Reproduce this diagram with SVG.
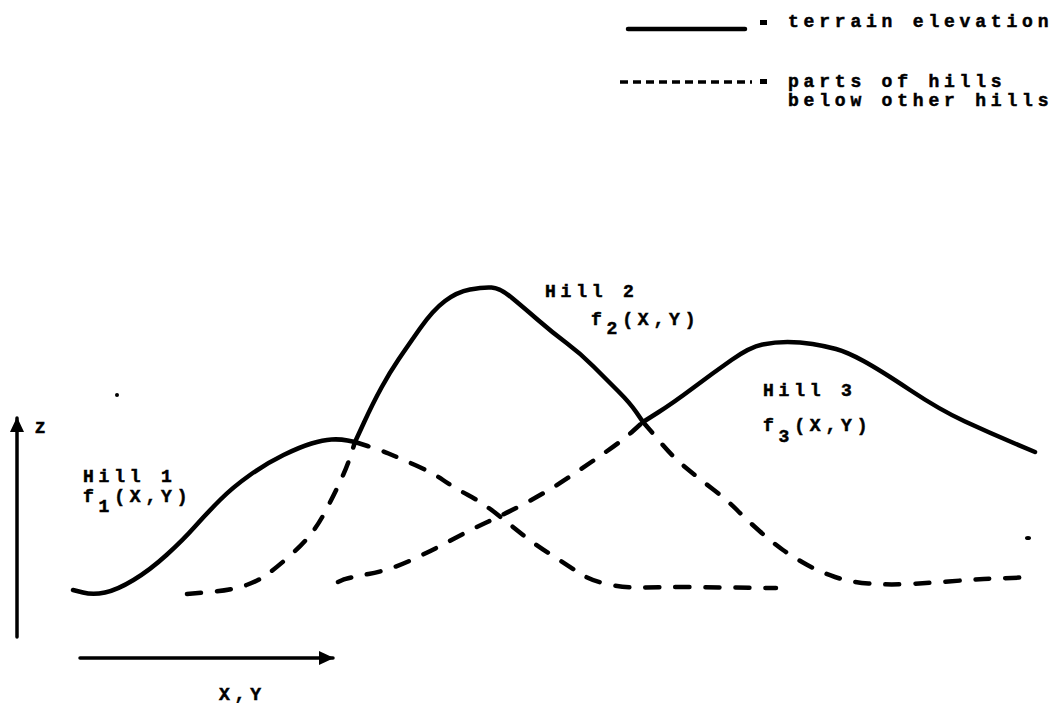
<svg xmlns="http://www.w3.org/2000/svg" width="1055" height="703" viewBox="0 0 1055 703">
<style>
.t{font-family:"Liberation Mono","DejaVu Sans Mono",monospace;font-weight:bold;font-size:18px;letter-spacing:4.8px;fill:#000;stroke:#000;stroke-width:0.5}
.solid{fill:none;stroke:#000;stroke-width:4.5;stroke-linecap:round;stroke-linejoin:round}
.dash{fill:none;stroke:#000;stroke-width:4.5;stroke-linecap:round;stroke-dasharray:14 16}
.axis{fill:none;stroke:#000;stroke-width:3.5;stroke-linecap:round}
</style>
<defs>
<marker id="ah" viewBox="0 0 15 14" refX="14" refY="7" markerWidth="15" markerHeight="14" markerUnits="userSpaceOnUse" orient="auto">
<path d="M0,0 L15,7 L0,14 Z" fill="#000"/>
</marker>
</defs>
<rect width="1055" height="703" fill="#fff"/>

<g id="legend">
<line x1="628" y1="29" x2="745" y2="29" class="solid"/>
<rect x="760" y="20" width="7" height="5" fill="#000"/>
<text class="t" x="788" y="27">terrain elevation</text>
<line x1="620" y1="82" x2="752" y2="82" stroke="#000" stroke-width="3.5" stroke-dasharray="8 5"/>
<rect x="760" y="79" width="7" height="5" fill="#000"/>
<text class="t" x="788" y="87">parts of hills</text>
<text class="t" x="788" y="106">below other hills</text>
</g>

<g id="axes">
<line x1="17" y1="637" x2="17" y2="418" class="axis" marker-end="url(#ah)"/>
<text class="t" x="35" y="433" style="font-size:17px">Z</text>
<line x1="80" y1="658" x2="333" y2="658" class="axis" marker-end="url(#ah)"/>
<text class="t" x="219" y="700">X,Y</text>
</g>

<g id="connectors">
<path id="terrain" class="solid" d="M73,590 L83,592.5 Q93,595 105,592.5 Q117,590 133.5,580 Q150,570 166.5,555 Q183,540 195,526.5 Q207,513 220,500 Q233,487 250,475 Q267,463 283.5,455 Q300,447 311.5,443.5 Q323,440 331.5,439.5 Q340,439 347.5,440.5 L355,442 L364,422.5 Q373,403 381.5,387.5 Q390,372 398.5,359.5 Q407,347 420,328.5 Q433,310 445,301 Q457,292 470,289.5 Q483,287 491.5,287.5 Q500,288 511.5,297.5 Q523,307 538,320 Q553,333 566.5,343 Q580,353 593.5,366.5 Q607,380 618.5,391.5 Q630,403 636.5,412.5 L643,422 L658,412.5 Q673,403 693,388 Q713,373 731.5,360 Q750,347 762.5,344.5 Q775,342 787.5,342 Q800,342 812.5,344 Q825,346 836,349 Q847,352 863.5,361 Q880,370 910,390 Q940,410 965,421.5 Q990,433 1012.5,442.5 L1035,452"/>
<path id="hill1-hidden" class="dash" d="M355,442 L367.5,446 Q380,450 388.5,453.5 Q397,457 415,465 Q433,473 443,480 Q453,487 468,495 Q483,503 498,515 Q513,527 523,535 Q533,543 551.5,555 Q570,567 580,573.5 Q590,580 606.5,584 Q623,588 641.5,587.5 Q660,587 683.5,587 L776,588"/>
<path id="hill2-hidden-left" class="dash" d="M187,594 L210,592 Q233,590 246.5,585 Q260,580 268.5,573.5 Q277,567 288.5,557 Q300,547 308.5,537 Q317,527 325,512 Q333,497 340,482 Q347,467 351,454.5 L355,442"/>
<path id="hill3-hidden" class="dash" d="M338,582 L342.5,580 Q347,578 368.5,574 Q390,570 411.5,560 Q433,550 451.5,540 Q470,530 488.5,521.5 Q507,513 528.5,501.5 Q550,490 570,476.5 Q590,463 606.5,451.5 Q623,440 633,431 L643,422"/>
<path id="hill2-hidden-right" class="dash" d="M643,422 L646.5,426 Q650,430 661.5,443.5 Q673,457 685,467 Q697,477 712,488.5 Q727,500 737,510 Q747,520 760,531.5 Q773,543 783,550 Q793,557 806.5,564.5 Q820,572 835,577 Q850,582 868.5,583.5 Q887,585 908.5,584 Q930,583 948.5,581.5 Q967,580 983.5,579 L1035,577"/>
</g>

<g id="hill1">
<text class="t" x="83" y="482">Hill 1</text>
<text class="t" x="83" y="502">f<tspan dy="10">1</tspan><tspan dy="-10">(X,Y)</tspan></text>
</g>
<g id="hill2">
<text class="t" x="545" y="297">Hill 2</text>
<text class="t" x="591" y="325">f<tspan dy="9">2</tspan><tspan dy="-9">(X,Y)</tspan></text>
</g>
<g id="hill3">
<text class="t" x="763" y="396">Hill 3</text>
<text class="t" x="763" y="431">f<tspan dy="11">3</tspan><tspan dy="-11">(X,Y)</tspan></text>
</g>

<g id="specks">
<circle cx="117" cy="395" r="2" fill="#000"/>
<ellipse cx="1028" cy="538" rx="3" ry="2" fill="#000"/>
</g>
</svg>
